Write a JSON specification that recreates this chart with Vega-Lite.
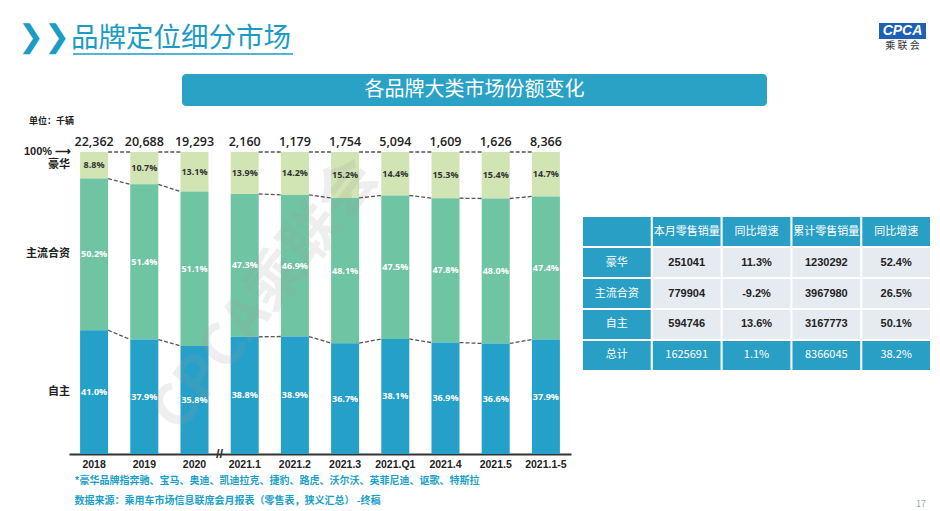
{
  "$schema": "https://vega.github.io/schema/vega-lite/v6.json",
  "padding": {"left": 18, "top": 22, "right": 0, "bottom": 0},
  "background": "white",
  "config": {"view": {"stroke": null}, "font": "Noto Sans CJK SC"},
  "datasets": {
    "shares": [
      {"cat": "2018", "seg": "豪华", "share": 8.8}, {"cat": "2018", "seg": "主流合资", "share": 50.2}, {"cat": "2018", "seg": "自主", "share": 41.0},
      {"cat": "2019", "seg": "豪华", "share": 10.7}, {"cat": "2019", "seg": "主流合资", "share": 51.4}, {"cat": "2019", "seg": "自主", "share": 37.9},
      {"cat": "2020", "seg": "豪华", "share": 13.1}, {"cat": "2020", "seg": "主流合资", "share": 51.1}, {"cat": "2020", "seg": "自主", "share": 35.8},
      {"cat": "2021.1", "seg": "豪华", "share": 13.9}, {"cat": "2021.1", "seg": "主流合资", "share": 47.3}, {"cat": "2021.1", "seg": "自主", "share": 38.8},
      {"cat": "2021.2", "seg": "豪华", "share": 14.2}, {"cat": "2021.2", "seg": "主流合资", "share": 46.9}, {"cat": "2021.2", "seg": "自主", "share": 38.9},
      {"cat": "2021.3", "seg": "豪华", "share": 15.2}, {"cat": "2021.3", "seg": "主流合资", "share": 48.1}, {"cat": "2021.3", "seg": "自主", "share": 36.7},
      {"cat": "2021.Q1", "seg": "豪华", "share": 14.4}, {"cat": "2021.Q1", "seg": "主流合资", "share": 47.5}, {"cat": "2021.Q1", "seg": "自主", "share": 38.1},
      {"cat": "2021.4", "seg": "豪华", "share": 15.3}, {"cat": "2021.4", "seg": "主流合资", "share": 47.8}, {"cat": "2021.4", "seg": "自主", "share": 36.9},
      {"cat": "2021.5", "seg": "豪华", "share": 15.4}, {"cat": "2021.5", "seg": "主流合资", "share": 48.0}, {"cat": "2021.5", "seg": "自主", "share": 36.6},
      {"cat": "2021.1-5", "seg": "豪华", "share": 14.7}, {"cat": "2021.1-5", "seg": "主流合资", "share": 47.4}, {"cat": "2021.1-5", "seg": "自主", "share": 37.9}
    ],
    "totals": [
      {"cat": "2018", "total": 22362}, {"cat": "2019", "total": 20688}, {"cat": "2020", "total": 19293},
      {"cat": "2021.1", "total": 2160}, {"cat": "2021.2", "total": 1179}, {"cat": "2021.3", "total": 1754},
      {"cat": "2021.Q1", "total": 5094}, {"cat": "2021.4", "total": 1609}, {"cat": "2021.5", "total": 1626},
      {"cat": "2021.1-5", "total": 8366}
    ],
    "links": [
      {"from": "2018", "to": "2019", "own0": 41.0, "own1": 37.9, "up0": 91.2, "up1": 89.3},
      {"from": "2019", "to": "2020", "own0": 37.9, "own1": 35.8, "up0": 89.3, "up1": 86.9},
      {"from": "2021.1", "to": "2021.2", "own0": 38.8, "own1": 38.9, "up0": 86.1, "up1": 85.8},
      {"from": "2021.2", "to": "2021.3", "own0": 38.9, "own1": 36.7, "up0": 85.8, "up1": 84.8},
      {"from": "2021.3", "to": "2021.Q1", "own0": 36.7, "own1": 38.1, "up0": 84.8, "up1": 85.6},
      {"from": "2021.Q1", "to": "2021.4", "own0": 38.1, "own1": 36.9, "up0": 85.6, "up1": 84.7},
      {"from": "2021.4", "to": "2021.5", "own0": 36.9, "own1": 36.6, "up0": 84.7, "up1": 84.6},
      {"from": "2021.5", "to": "2021.1-5", "own0": 36.6, "own1": 37.9, "up0": 84.6, "up1": 85.3}
    ],
    "table": [
      {"row": "表头", "col": "类别", "t": ""}, {"row": "表头", "col": "本月零售销量", "t": "本月零售销量"}, {"row": "表头", "col": "同比增速", "t": "同比增速"}, {"row": "表头", "col": "累计零售销量", "t": "累计零售销量"}, {"row": "表头", "col": "累计同比增速", "t": "同比增速"},
      {"row": "豪华", "col": "类别", "t": "豪华"}, {"row": "豪华", "col": "本月零售销量", "t": "251041"}, {"row": "豪华", "col": "同比增速", "t": "11.3%"}, {"row": "豪华", "col": "累计零售销量", "t": "1230292"}, {"row": "豪华", "col": "累计同比增速", "t": "52.4%"},
      {"row": "主流合资", "col": "类别", "t": "主流合资"}, {"row": "主流合资", "col": "本月零售销量", "t": "779904"}, {"row": "主流合资", "col": "同比增速", "t": "-9.2%"}, {"row": "主流合资", "col": "累计零售销量", "t": "3967980"}, {"row": "主流合资", "col": "累计同比增速", "t": "26.5%"},
      {"row": "自主", "col": "类别", "t": "自主"}, {"row": "自主", "col": "本月零售销量", "t": "594746"}, {"row": "自主", "col": "同比增速", "t": "13.6%"}, {"row": "自主", "col": "累计零售销量", "t": "3167773"}, {"row": "自主", "col": "累计同比增速", "t": "50.1%"},
      {"row": "总计", "col": "类别", "t": "总计"}, {"row": "总计", "col": "本月零售销量", "t": "1625691"}, {"row": "总计", "col": "同比增速", "t": "1.1%"}, {"row": "总计", "col": "累计零售销量", "t": "8366045"}, {"row": "总计", "col": "累计同比增速", "t": "38.2%"}
    ]
  },
  "spacing": 11,
  "vconcat": [
    {
      "spacing": 19,
      "vconcat": [
        {
          "spacing": 585,
          "hconcat": [
            {
              "spacing": 0,
              "hconcat": [
                {
                  "width": 1, "height": 1,
                  "data": {"values": []},
                  "mark": "text",
                  "title": {"text": "❯❯", "anchor": "start", "frame": "group", "dx": -51, "fontSize": 31, "color": "#1a9cc4", "fontWeight": "bold", "font": "DejaVu Sans", "offset": -31}
                },
                {
                  "width": 220, "height": 31,
                  "view": {"stroke": "#1a9cc4", "strokeWidth": 1.5, "strokeDash": [0, 251, 220, 31]},
                  "data": {"values": []},
                  "mark": "text",
                  "title": {"text": "品牌定位细分市场", "anchor": "start", "frame": "group", "dx": -2, "fontSize": 27.5, "color": "#1a9cc4", "fontWeight": "normal", "font": "Noto Sans CJK SC", "offset": -29}
                }
              ]
            },
            {
              "width": 47, "height": 16,
              "view": {"fill": "#1d60b4"},
              "data": {"values": [{"t": "CPCA"}]},
              "mark": {"type": "text", "color": "white", "fontSize": 14, "fontStyle": "italic", "fontWeight": "bold", "font": "Liberation Sans"},
              "encoding": {"text": {"field": "t"}},
              "title": {"text": "乘 联 会", "orient": "bottom", "fontSize": 10, "color": "#333", "offset": 2, "fontWeight": "normal"}
            }
          ]
        },
        {
          "spacing": 10,
          "hconcat": [
            {"width": 103, "height": 32, "data": {"values": []}, "mark": "text"},
            {
              "width": 585, "height": 32,
              "view": {"fill": "#29a2c6", "cornerRadius": 4},
              "data": {"values": [{"t": "各品牌大类市场份额变化"}]},
              "mark": {"type": "text", "color": "white", "fontSize": 20, "font": "Noto Sans CJK SC"},
              "encoding": {"text": {"field": "t"}}
            }
          ]
        }
      ]
    },
    {
      "spacing": 12,
      "hconcat": [
        {
          "width": 502, "height": 302,
          "title": {"text": "单位：千辆", "anchor": "start", "frame": "group", "dx": -40, "fontSize": 9, "fontWeight": "bold", "color": "#222", "offset": 10},
          "layer": [
            {
              "data": {"name": "shares"},
              "transform": [
                {"calculate": "indexof(['自主','主流合资','豪华'], datum.seg)", "as": "ord"},
                {"stack": "share", "groupby": ["cat"], "sort": [{"field": "ord", "order": "ascending"}], "as": ["lo", "hi"]}
              ],
              "mark": {"type": "bar"},
              "encoding": {
                "x": {"field": "cat", "type": "nominal", "sort": null,
                  "scale": {"domain": ["2018", "2019", "2020", "2021.1", "2021.2", "2021.3", "2021.Q1", "2021.4", "2021.5", "2021.1-5"], "paddingInner": 0.442, "paddingOuter": 0.221},
                  "axis": {
                    "labelAngle": 0, "ticks": false, "domainColor": "#333", "domainWidth": 2,
                    "labelFont": "Liberation Sans", "labelFontSize": 10.5, "labelFontWeight": "bold", "labelColor": "#222", "labelPadding": 5,
                    "title": ["*豪华品牌指奔驰、宝马、奥迪、凯迪拉克、捷豹、路虎、沃尔沃、英菲尼迪、讴歌、特斯拉", "数据来源：乘用车市场信息联席会月报表（零售表，狭义汇总） -终稿"],
                    "titleAnchor": "start", "titleAlign": "left", "titleX": 5, "titleY": 21, "titleBaseline": "top",
                    "titleFont": "Noto Sans CJK SC", "titleFontSize": 10, "titleFontWeight": "bold", "titleColor": "#1aa0c8", "titleLineHeight": 20
                  }
                },
                "y": {"field": "lo", "type": "quantitative", "scale": {"domain": [0, 100], "nice": false}, "axis": null},
                "y2": {"field": "hi"},
                "color": {"field": "seg", "type": "nominal", "scale": {"domain": ["豪华", "主流合资", "自主"], "range": ["#d0e5b3", "#6fc4a4", "#25a0c8"]}, "legend": null}
              }
            },
            {
              "data": {"values": [{"t": "CPCA乘联会"}]},
              "mark": {"type": "text", "angle": -52, "dx": -27, "dy": -47, "fontSize": 58, "fontWeight": "bold", "color": "#9a9a9a", "opacity": 0.16, "font": "Noto Sans CJK SC"},
              "encoding": {"text": {"field": "t"}}
            },
            {
              "data": {"name": "shares"},
              "transform": [
                {"calculate": "indexof(['自主','主流合资','豪华'], datum.seg)", "as": "ord"},
                {"stack": "share", "groupby": ["cat"], "sort": [{"field": "ord", "order": "ascending"}], "as": ["lo", "hi"]},
                {"calculate": "(datum.lo + datum.hi) / 2", "as": "mid"},
                {"calculate": "format(datum.share, '.1f') + '%'", "as": "lbl"}
              ],
              "mark": {"type": "text", "fontSize": 9, "fontWeight": "bold", "font": "Open Sans", "baseline": "middle"},
              "encoding": {
                "x": {"field": "cat", "type": "nominal"},
                "y": {"field": "mid", "type": "quantitative"},
                "text": {"field": "lbl"},
                "color": {"condition": {"test": "datum.seg === '豪华'", "value": "#333"}, "value": "white"}
              }
            },
            {
              "data": {"name": "shares"},
              "transform": [
                {"filter": "datum.cat === '2018'"},
                {"calculate": "indexof(['自主','主流合资','豪华'], datum.seg)", "as": "ord"},
                {"stack": "share", "groupby": ["cat"], "sort": [{"field": "ord", "order": "ascending"}], "as": ["lo", "hi"]},
                {"calculate": "(datum.lo + datum.hi) / 2", "as": "mid"}
              ],
              "mark": {"type": "text", "align": "right", "dx": -10, "fontSize": 11, "fontWeight": "bold", "color": "#222", "baseline": "middle"},
              "encoding": {
                "x": {"field": "cat", "type": "nominal", "bandPosition": 0},
                "y": {"field": "mid", "type": "quantitative"},
                "text": {"field": "seg"}
              }
            },
            {
              "data": {"values": [{"t": "100% ⟶"}]},
              "mark": {"type": "text", "align": "right", "dx": -9, "fontSize": 11, "fontWeight": "bold", "font": "Liberation Sans", "color": "#222", "baseline": "middle"},
              "encoding": {
                "x": {"datum": "2018", "type": "nominal", "bandPosition": 0},
                "y": {"datum": 100, "type": "quantitative"},
                "text": {"field": "t"}
              }
            },
            {
              "data": {"name": "totals"},
              "mark": {"type": "text", "fontSize": 12.5, "fontWeight": 600, "font": "Open Sans", "color": "#222", "baseline": "alphabetic", "dy": -6},
              "encoding": {
                "x": {"field": "cat", "type": "nominal"},
                "y": {"datum": 100, "type": "quantitative"},
                "text": {"field": "total", "format": ","}
              }
            },
            {
              "data": {"name": "links"},
              "mark": {"type": "rule", "strokeDash": [4, 2], "color": "#555", "strokeWidth": 1.3},
              "encoding": {
                "x": {"field": "from", "type": "nominal", "bandPosition": 1},
                "x2": {"field": "to", "bandPosition": 0},
                "y": {"datum": 100, "type": "quantitative"},
                "y2": {"datum": 100}
              }
            },
            {
              "data": {"name": "links"},
              "mark": {"type": "rule", "strokeDash": [4, 2], "color": "#555", "strokeWidth": 1.3},
              "encoding": {
                "x": {"field": "from", "type": "nominal", "bandPosition": 1},
                "x2": {"field": "to", "bandPosition": 0},
                "y": {"field": "up0", "type": "quantitative"},
                "y2": {"field": "up1"}
              }
            },
            {
              "data": {"name": "links"},
              "mark": {"type": "rule", "strokeDash": [4, 2], "color": "#555", "strokeWidth": 1.3},
              "encoding": {
                "x": {"field": "from", "type": "nominal", "bandPosition": 1},
                "x2": {"field": "to", "bandPosition": 0},
                "y": {"field": "own0", "type": "quantitative"},
                "y2": {"field": "own1"}
              }
            },
            {
              "data": {"values": [{"t": "//"}]},
              "mark": {"type": "text", "dx": 11, "fontSize": 13, "fontWeight": "bold", "color": "#333", "baseline": "middle", "font": "Liberation Sans"},
              "encoding": {
                "x": {"datum": "2020", "type": "nominal", "bandPosition": 1},
                "y": {"datum": 0, "type": "quantitative"},
                "text": {"field": "t"}
              }
            }
          ]
        },
        {
          "width": 347, "height": 218,
          "data": {"name": "table"},
          "title": {"text": "17", "orient": "bottom", "anchor": "end", "dx": -4, "fontSize": 9, "color": "#99aab0", "offset": 130, "fontWeight": "normal"},
          "encoding": {
            "x": {"field": "col", "type": "nominal", "sort": null, "scale": {"domain": ["类别", "本月零售销量", "同比增速", "累计零售销量", "累计同比增速"], "paddingInner": 0.03, "paddingOuter": 0}, "axis": null},
            "y": {"field": "row", "type": "nominal", "sort": null, "scale": {"domain": ["表头", "豪华", "主流合资", "自主", "总计"], "range": [65, 218], "paddingInner": 0.06, "paddingOuter": 0}, "axis": null}
          },
          "layer": [
            {
              "mark": {"type": "rect"},
              "encoding": {
                "fill": {"condition": {"test": "datum.row === '表头' || datum.row === '总计' || datum.col === '类别'", "value": "#2a9fc6"}, "value": "#e6ebf1"}
              }
            },
            {
              "transform": [{"filter": "datum.row === '表头' || datum.row === '总计' || datum.col === '类别'"}],
              "mark": {"type": "text", "color": "white", "fontSize": 11, "font": "Noto Sans CJK SC"},
              "encoding": {"text": {"field": "t"}}
            },
            {
              "transform": [{"filter": "!(datum.row === '表头' || datum.row === '总计' || datum.col === '类别')"}],
              "mark": {"type": "text", "color": "#222", "fontSize": 11, "fontWeight": "bold", "font": "Liberation Sans"},
              "encoding": {"text": {"field": "t"}}
            }
          ]
        }
      ]
    }
  ]
}
